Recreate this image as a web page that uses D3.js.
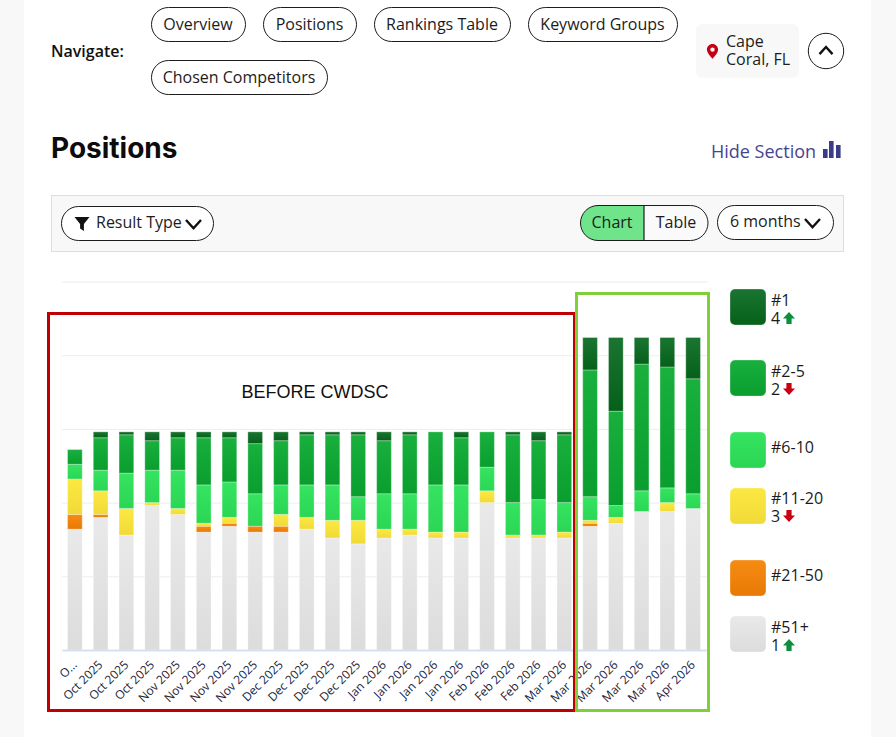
<!DOCTYPE html>
<html>
<head>
<meta charset="utf-8">
<script src="https://cdn.jsdelivr.net/npm/d3@7"></script>
<style>
	html, body { margin: 0; padding: 0; background: #f8f8f8; overflow: hidden; }
	svg { display: block; }
	text { font-family: "Open Sans", sans-serif; fill: #1c1c1c; }
</style>
</head>
<body>
<div id="chart"></div>
<script>
var categories = ["O...", "Oct 2025", "Oct 2025", "Oct 2025", "Nov 2025", "Nov 2025", "Nov 2025", "Nov 2025",
	"Dec 2025", "Dec 2025", "Dec 2025", "Dec 2025", "Jan 2026", "Jan 2026", "Jan 2026", "Jan 2026",
	"Feb 2026", "Feb 2026", "Feb 2026", "Mar 2026", "Mar 2026", "Mar 2026", "Mar 2026", "Mar 2026", "Apr 2026"];

// keyword counts per position bucket, bottom of the stack first
var pos51 = [41, 45, 39, 49, 46, 40, 42, 40, 40, 41, 38, 36, 38, 39, 38, 38, 50, 38, 38, 38, 42, 43, 47, 47, 48];
var pos21 = [5, 1, 0, 0, 0, 2, 1, 2, 2, 0, 0, 0, 0, 0, 0, 0, 0, 0, 0, 0, 1, 0, 0, 0, 0];
var pos11 = [12, 8, 9, 1, 2, 1, 2, 0, 4, 4, 6, 8, 3, 2, 2, 2, 4, 1, 1, 2, 1, 2, 0, 3, 0];
var pos6 = [5, 7, 12, 11, 13, 13, 12, 11, 10, 11, 12, 8, 12, 12, 16, 16, 8, 11, 12, 10, 8, 4, 7, 5, 5];
var pos2 = [5, 11, 13, 10, 11, 16, 15, 17, 15, 17, 17, 21, 18, 20, 18, 16, 12, 23, 20, 23, 43, 32, 43, 41, 39];
var pos1 = [0, 2, 1, 3, 2, 2, 2, 4, 3, 1, 1, 1, 3, 1, 0, 2, 0, 1, 3, 1, 11, 25, 9, 10, 14];

var yTicks = [0, 25, 50, 75, 100, 125];

var legendNames = ["#1", "#2-5", "#6-10", "#11-20", "#21-50", "#51+"];
var legendChanges = [4, -2, null, -3, null, 1];

var navItems = ["Overview", "Positions", "Rankings Table", "Keyword Groups", "Chosen Competitors"];

var seriesKeys = ["pos51", "pos21", "pos11", "pos6", "pos2", "pos1"];
var seriesData = { pos51: pos51, pos21: pos21, pos11: pos11, pos6: pos6, pos2: pos2, pos1: pos1 };
var gradients = {
	pos1: ["#1a7530", "#05601a"],
	pos2: ["#19b03e", "#099e2d"],
	pos6: ["#35e460", "#2bd654"],
	pos11: ["#fce843", "#f0da37"],
	pos21: ["#f68c14", "#e87904"],
	pos51: ["#e9e9e9", "#dcdcdc"]
};
var legendKeys = ["pos1", "pos2", "pos6", "pos11", "pos21", "pos51"];

var width = 896, height = 737;
var svg = d3.select("#chart").append("svg").attr("width", width).attr("height", height);

var defs = svg.append("defs");
seriesKeys.forEach(function (k) {
	var g = defs.append("linearGradient").attr("id", "grad-" + k)
		.attr("x1", 0).attr("y1", 0).attr("x2", 0).attr("y2", 1);
	g.append("stop").attr("offset", "0%").attr("stop-color", gradients[k][0]);
	g.append("stop").attr("offset", "100%").attr("stop-color", gradients[k][1]);
});

svg.append("rect").attr("x", 24).attr("y", 0).attr("width", 847).attr("height", height).attr("fill", "#fff");

function pill(x, y, w, h, fill) {
	return svg.append("rect").attr("x", x + 0.5).attr("y", y + 0.5).attr("width", w).attr("height", h)
		.attr("rx", h / 2).attr("fill", fill || "#fff").attr("stroke", "#1c1c1c").attr("stroke-width", 1);
}
function label(x, y, str, size, weight, color) {
	return svg.append("text").attr("x", x).attr("y", y).text(str)
		.style("font-size", size + "px").style("font-weight", weight || 400).style("fill", color || "#1c1c1c");
}
function chevron(x, y, w, up) {
	var h = w * 0.55;
	svg.append("path")
		.attr("d", up ? "M" + x + " " + (y + h) + "L" + (x + w / 2) + " " + y + "L" + (x + w) + " " + (y + h)
			: "M" + x + " " + y + "L" + (x + w / 2) + " " + (y + h) + "L" + (x + w) + " " + y)
		.attr("fill", "none").attr("stroke", "#111").attr("stroke-width", 2.4);
}

// header
label(51, 57, "Navigate:", 16, 600, "#111");
var navBoxes = [[151, 7, 94], [263, 7, 93], [374, 7, 136], [528, 7, 149], [151, 60, 176]];
navItems.forEach(function (name, i) {
	var b = navBoxes[i];
	pill(b[0], b[1], b[2], 34);
	label(b[0] + b[2] / 2, b[1] + 23, name, 16).attr("text-anchor", "middle");
});

svg.append("rect").attr("x", 696).attr("y", 24).attr("width", 103).attr("height", 54).attr("rx", 6).attr("fill", "#f8f8f8");
svg.append("path").attr("d", "M712.5 44c-3.2 0-5.6 2.5-5.6 5.6 0 3.9 5.6 9.2 5.6 9.2s5.6-5.3 5.6-9.2c0-3.1-2.4-5.6-5.6-5.6zm0 7.8a2.2 2.2 0 1 1 0-4.4 2.2 2.2 0 0 1 0 4.4z")
	.attr("fill", "#c40012");
label(726, 47, "Cape", 16);
label(726, 65, "Coral, FL", 16);
svg.append("circle").attr("cx", 826).attr("cy", 51).attr("r", 17.7).attr("fill", "#fff").attr("stroke", "#1c1c1c");
chevron(819.5, 47, 13, true);

label(51, 158, "Positions", 28, 700, "#0c0c0c").style("font-family", "Inter");
label(711, 158, "Hide Section", 18, 400, "#45458f");
[[823, 149, 9], [829, 141, 17], [836, 145, 13]].forEach(function (b) {
	svg.append("rect").attr("x", b[0]).attr("y", b[1]).attr("width", 4.6).attr("height", b[2]).attr("fill", "#3b3b8c");
});

// filter bar
svg.append("rect").attr("x", 51.5).attr("y", 195.5).attr("width", 792).attr("height", 56)
	.attr("fill", "#f8f8f8").attr("stroke", "#dedede");
pill(61, 206, 152, 34);
svg.append("path").attr("d", "M74.5 217h15l-5.6 7v7l-3.8-2.5v-4.5z").attr("fill", "#111");
label(96, 228, "Result Type", 16);
chevron(186, 220, 15, false);

svg.append("path").attr("d", "M644 205.5h-46a17.5 17.5 0 0 0 0 35h46z").attr("fill", "#6fe48b");
svg.append("path").attr("d", "M644 205.5h46.5a17.5 17.5 0 0 1 0 35h-46.5z").attr("fill", "#fafafa");
svg.append("path").attr("d", "M598 205.5h92.5a17.5 17.5 0 0 1 0 35h-92.5a17.5 17.5 0 0 1 0-35z")
	.attr("fill", "none").attr("stroke", "#1c1c1c");
svg.append("path").attr("d", "M644 205.5v35").attr("stroke", "#1c1c1c").attr("stroke-width", 1.2);
label(612, 228, "Chart", 16).attr("text-anchor", "middle");
label(676, 228, "Table", 16).attr("text-anchor", "middle");
pill(717, 205, 116, 34);
label(730, 227, "6 months", 16);
chevron(805, 219, 15, false);

// chart
var x = d3.scaleBand().domain(d3.range(categories.length)).range([62, 706]).paddingInner(0.43).paddingOuter(0.215);
var y = d3.scaleLinear().domain([0, 125]).range([650, 281.5]);

var grid = svg.append("g").attr("transform", "translate(62,0)")
	.call(d3.axisLeft(y).tickValues(yTicks).tickSize(-646).tickFormat(""));
grid.select(".domain").remove();
grid.selectAll(".tick line").attr("stroke", "#ededed");

var table = categories.map(function (c, i) {
	var row = { index: i };
	seriesKeys.forEach(function (k) { row[k] = seriesData[k][i]; });
	return row;
});
var stacked = d3.stack().keys(seriesKeys)(table);

svg.append("g").selectAll("g").data(stacked).join("g")
	.attr("fill", function (s) { return "url(#grad-" + s.key + ")"; })
	.selectAll("rect").data(function (s) { return s.filter(function (d) { return d[1] > d[0]; }); }).join("rect")
	.attr("x", function (d) { return x(d.data.index); })
	.attr("y", function (d) { return y(d[1]); })
	.attr("width", x.bandwidth())
	.attr("height", function (d) { return y(d[0]) - y(d[1]); })
	.attr("stroke", "rgba(255,255,255,0.3)");

var xAxis = svg.append("g").attr("transform", "translate(0,650)")
	.call(d3.axisBottom(x).tickSize(0).tickFormat(function (i) { return categories[i]; }));
xAxis.select(".domain").attr("stroke", "#d8dfee").attr("stroke-width", 2);
xAxis.selectAll("text")
	.style("font-size", "12px").style("fill", "#1b2440")
	.attr("text-anchor", "end")
	.attr("transform", "rotate(-45)")
	.attr("x", -9).attr("y", 13).attr("dy", 0);

// annotation frames
svg.append("rect").attr("x", 48.5).attr("y", 313.5).attr("width", 526).attr("height", 397)
	.attr("fill", "none").attr("stroke", "#c00000").attr("stroke-width", 3);
svg.append("rect").attr("x", 576.5).attr("y", 293.5).attr("width", 132).attr("height", 417)
	.attr("fill", "none").attr("stroke", "#7ed03a").attr("stroke-width", 3);
label(315, 398, "BEFORE CWDSC", 18, 400, "#111").attr("text-anchor", "middle").style("font-family", "Liberation Sans");

// legend
var legendTop = [289, 360, 432, 488, 560, 616];
var legendText = [306, 377, 453, 504, 581, 633];
legendNames.forEach(function (name, i) {
	svg.append("rect").attr("x", 730).attr("y", legendTop[i]).attr("width", 36).attr("height", 36).attr("rx", 5)
		.attr("fill", "url(#grad-" + legendKeys[i] + ")").attr("stroke", "rgba(255,255,255,0.3)");
	label(771, legendText[i], name, 16);
	var change = legendChanges[i];
	if (change === null) return;
	var by = legendText[i] + 18;
	label(771, by, Math.abs(change), 16);
	var ax = 789, ay = by - 6;
	var arrow = change > 0
		? "M" + ax + " " + (ay - 6) + "l6 6.5h-3.4v5.5h-5.2v-5.5h-3.4z"
		: "M" + ax + " " + (ay + 6) + "l6 -6.5h-3.4v-5.5h-5.2v5.5h-3.4z";
	svg.append("path").attr("d", arrow).attr("fill", change > 0 ? "#0b8f3c" : "#c80012");
});
</script>
</body>
</html>
